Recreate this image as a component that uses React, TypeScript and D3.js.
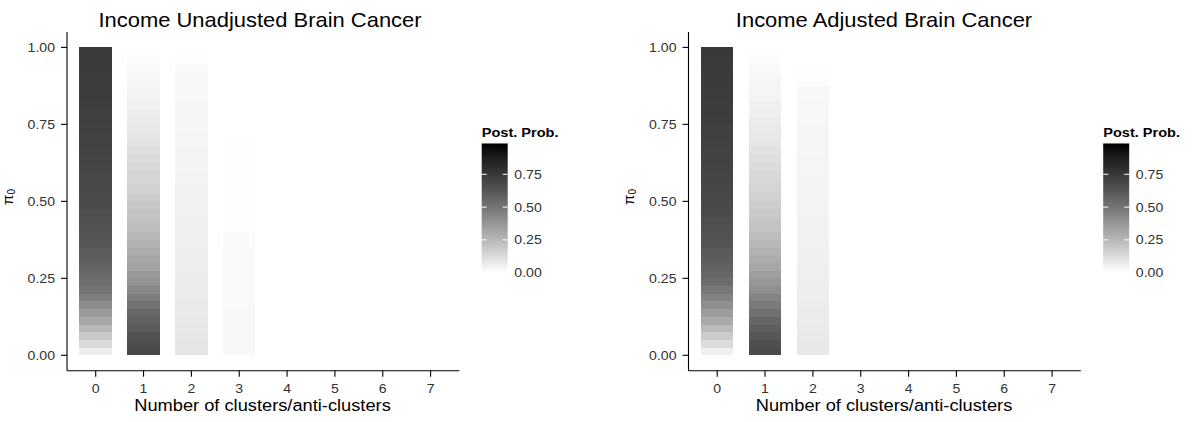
import React from "react";
import * as d3 from "d3";

// ---------- data ----------
// lower edges of the pi0 bins (bin width 0.025)
const PI0 = [0, 0.025, 0.05, 0.075, 0.1, 0.125, 0.15, 0.175, 0.2, 0.225, 0.25, 0.275, 0.3, 0.325, 0.35, 0.375, 0.4, 0.425, 0.45, 0.475, 0.5, 0.525, 0.55, 0.575, 0.6, 0.625, 0.65, 0.675, 0.7, 0.725, 0.75, 0.775, 0.8, 0.825, 0.85, 0.875, 0.9, 0.925, 0.95, 0.975];
const PI0_STEP = 0.025;
const CLUSTERS = [0, 1, 2, 3, 4, 5, 6, 7];
const Y_TICKS = [0, 0.25, 0.5, 0.75, 1];
const LEGEND_TICKS = [0, 0.25, 0.5, 0.75];
const LEGEND_MAX = 0.985;

// Income Unadjusted: posterior probability by number of clusters
const unadjK0 = [0.06, 0.13, 0.19, 0.25, 0.31, 0.36, 0.41, 0.46, 0.5, 0.53, 0.55, 0.57, 0.59, 0.6, 0.62, 0.63, 0.64, 0.65, 0.66, 0.67, 0.675, 0.68, 0.685, 0.69, 0.695, 0.7, 0.705, 0.71, 0.71, 0.715, 0.72, 0.72, 0.725, 0.73, 0.73, 0.735, 0.735, 0.74, 0.74, 0.745];
const unadjK1 = [0.68, 0.66, 0.64, 0.61, 0.58, 0.55, 0.51, 0.47, 0.43, 0.39, 0.36, 0.33, 0.31, 0.29, 0.27, 0.25, 0.23, 0.22, 0.2, 0.19, 0.18, 0.16, 0.15, 0.14, 0.13, 0.12, 0.11, 0.1, 0.09, 0.08, 0.07, 0.06, 0.05, 0.045, 0.04, 0.03, 0.025, 0.02, 0.012, 0.006];
const unadjK2 = [0.09, 0.088, 0.085, 0.082, 0.08, 0.077, 0.075, 0.072, 0.07, 0.067, 0.065, 0.062, 0.06, 0.058, 0.056, 0.054, 0.052, 0.05, 0.048, 0.046, 0.045, 0.043, 0.042, 0.04, 0.039, 0.037, 0.036, 0.035, 0.033, 0.032, 0.031, 0.03, 0.029, 0.028, 0.027, 0.026, 0.025, 0.012, 0.008, 0.003];
const unadjK3 = [0.025, 0.025, 0.024, 0.024, 0.023, 0.023, 0.022, 0.022, 0.021, 0.021, 0.02, 0.02, 0.019, 0.019, 0.018, 0.018, 0.005, 0.005, 0.005, 0.004, 0.004, 0.004, 0.004, 0.003, 0.003, 0.003, 0.003, 0.002, 0, 0, 0, 0, 0, 0, 0, 0, 0, 0, 0, 0];

// Income Adjusted
const adjK0 = [0.05, 0.12, 0.18, 0.24, 0.3, 0.35, 0.4, 0.45, 0.49, 0.53, 0.56, 0.58, 0.6, 0.61, 0.63, 0.64, 0.65, 0.66, 0.67, 0.68, 0.685, 0.69, 0.695, 0.7, 0.705, 0.71, 0.71, 0.715, 0.72, 0.72, 0.725, 0.73, 0.73, 0.735, 0.735, 0.74, 0.74, 0.745, 0.745, 0.75];
const adjK1 = [0.67, 0.65, 0.62, 0.59, 0.56, 0.52, 0.48, 0.44, 0.4, 0.37, 0.34, 0.31, 0.29, 0.27, 0.25, 0.23, 0.21, 0.2, 0.18, 0.17, 0.16, 0.15, 0.14, 0.13, 0.12, 0.11, 0.1, 0.09, 0.08, 0.075, 0.065, 0.055, 0.05, 0.04, 0.035, 0.03, 0.022, 0.016, 0.01, 0.004];
const adjK2 = [0.08, 0.078, 0.075, 0.072, 0.07, 0.067, 0.065, 0.062, 0.06, 0.058, 0.056, 0.054, 0.052, 0.05, 0.048, 0.046, 0.045, 0.043, 0.042, 0.04, 0.039, 0.038, 0.036, 0.035, 0.034, 0.033, 0.032, 0.031, 0.03, 0.029, 0.028, 0.027, 0.026, 0.025, 0.024, 0.006, 0.004, 0.002, 0.001, 0];

const PANELS = [
  { title: "Income Unadjusted Brain Cancer", series: [unadjK0, unadjK1, unadjK2, unadjK3] },
  { title: "Income Adjusted Brain Cancer", series: [adjK0, adjK1, adjK2] },
];

// ---------- layout ----------
const W = 1196;
const H = 422;
const OFFSET = 621.5;
const PL = 67, PR = 459.3, PT = 32, PB = 370.7;
const SX = 1.12; // horizontal stretch of text in the reference
const FONT = "'Liberation Sans', Arial, Helvetica, sans-serif";
const TITLE_CX = [260, 884];
const XTITLE_CX = 262.5;

const color = d3
  .scaleLinear<string>()
  .domain([0, LEGEND_MAX])
  .range(["#ffffff", "#000000"])
  .interpolate(d3.interpolateLab)
  .clamp(true);

function T({ x, y, size, anchor = "start", weight = "normal", fill = "#000", children }: any) {
  return (
    <text
      transform={`translate(${x},${y}) scale(${SX},1)`}
      fontSize={size}
      fontFamily={FONT}
      fontWeight={weight}
      textAnchor={anchor}
      fill={fill}
    >
      {children}
    </text>
  );
}

function Panel({ idx, panel }: any) {
  const ox = idx * OFFSET;
  const x = d3.scaleLinear().domain([-0.6, 7.6]).range([ox + PL, ox + PR]);
  const y = d3.scaleLinear().domain([-0.05, 1.05]).range([PB, PT]);
  const half = 0.34;
  const tickCol = "#333";
  const legX = ox + 481.7;
  const legW = 26;
  const ly = d3.scaleLinear().domain([0, 1]).range([272.7, 272.7 - 131.2]);
  const gid = `grad${idx}`;
  const stops = d3.range(0, 11).map((i) => i / 10);

  return (
    <g>
      {/* tiles */}
      <g shapeRendering="crispEdges">
        {panel.series.map((vals: number[], k: number) =>
          vals.map((v, i) =>
            v > 0 ? (
              <rect
                key={`${k}-${i}`}
                x={x(CLUSTERS[k] - half)}
                width={x(CLUSTERS[k] + half) - x(CLUSTERS[k] - half)}
                y={y(PI0[i] + PI0_STEP)}
                height={y(PI0[i]) - y(PI0[i] + PI0_STEP)}
                fill={color(v)}
              />
            ) : null
          )
        )}
      </g>
      {/* axes */}
      <line x1={ox + PL} x2={ox + PL} y1={PT} y2={PB} stroke="#000" strokeWidth={1.1} />
      <line x1={ox + PL} x2={ox + PR} y1={PB} y2={PB} stroke="#000" strokeWidth={1.1} />
      {Y_TICKS.map((t) => (
        <g key={`y${t}`}>
          <line x1={ox + PL - 6} x2={ox + PL} y1={y(t)} y2={y(t)} stroke="#000" strokeWidth={1.1} />
          <T x={ox + PL - 12} y={y(t) + 4.5} size={12.6} anchor="end" fill={tickCol}>
            {t.toFixed(2)}
          </T>
        </g>
      ))}
      {CLUSTERS.map((c) => (
        <g key={`x${c}`}>
          <line x1={x(c)} x2={x(c)} y1={PB} y2={PB + 6} stroke="#000" strokeWidth={1.1} />
          <T x={x(c)} y={392.7} size={12.6} anchor="middle" fill={tickCol}>
            {String(c)}
          </T>
        </g>
      ))}
      {/* titles */}
      <T x={TITLE_CX[idx]} y={26.7} size={19.6} anchor="middle">
        {panel.title}
      </T>
      <T x={ox + XTITLE_CX} y={410.7} size={16.3} anchor="middle">
        Number of clusters/anti-clusters
      </T>
      <text
        transform={`translate(${ox + 12.5},197) rotate(-90)`}
        fontFamily={FONT}
        fontSize={15}
        textAnchor="middle"
        fill="#000"
      >
        π<tspan fontSize={10} dy={2}>0</tspan>
      </text>
      {/* legend */}
      <defs>
        <linearGradient id={gid} x1="0" y1="1" x2="0" y2="0">
          {stops.map((s) => (
            <stop key={s} offset={s} stopColor={color(s * LEGEND_MAX)} />
          ))}
        </linearGradient>
      </defs>
      <T x={legX} y={136.7} size={13} weight="bold">
        Post. Prob.
      </T>
      <rect x={legX} y={ly(LEGEND_MAX)} width={legW} height={ly(0) - ly(LEGEND_MAX)} fill={`url(#${gid})`} />
      {LEGEND_TICKS.map((t) => (
        <g key={`l${t}`}>
          <line x1={legX} x2={legX + 5} y1={ly(t)} y2={ly(t)} stroke="#fff" strokeWidth={1} />
          <line x1={legX + legW - 5} x2={legX + legW} y1={ly(t)} y2={ly(t)} stroke="#fff" strokeWidth={1} />
          <T x={legX + 32.6} y={ly(t) + 4.5} size={12.6} fill={tickCol}>
            {t.toFixed(2)}
          </T>
        </g>
      ))}
    </g>
  );
}

export default function App() {
  return (
    <svg
      width={W}
      height={H}
      viewBox={`0 0 ${W} ${H}`}
      style={{ position: "absolute", left: 0, top: 0, background: "#fff" }}
    >
      <rect width={W} height={H} fill="#fff" />
      {PANELS.map((p, i) => (
        <Panel key={i} idx={i} panel={p} />
      ))}
    </svg>
  );
}
